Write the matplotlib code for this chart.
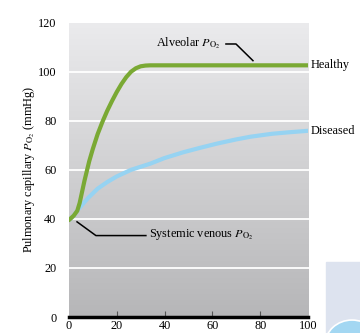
import matplotlib
matplotlib.use("Agg")
import matplotlib.pyplot as plt
import numpy as np
from matplotlib.patches import Rectangle, Circle

plt.rcParams["font.family"] = ["Liberation Serif", "DejaVu Serif"]
plt.rcParams["mathtext.fontset"] = "stix"

# transit time along the capillary (% of length) and capillary PO2 (mmHg)
healthy_x = [0, 2, 3.5, 4.5, 5.5, 6.5, 7.5, 8.5, 10, 12, 14, 16, 18, 20, 22, 24, 26,
             28, 30, 32, 34, 100]
healthy_y = [39.5, 41.3, 43.3, 46.5, 51, 55.5, 59.5, 63.5, 68.5, 74.5, 79.5, 84,
             88, 91.7, 95, 97.8, 100, 101.4, 102.2, 102.5, 102.6, 102.6]
diseased_x = [0, 2, 4, 8, 12, 16, 20, 26, 34, 40, 48, 55, 62, 70, 76, 85, 92, 100]
diseased_y = [39.5, 41.3, 44, 48.5, 52.3, 55, 57.3, 60, 62.5, 64.8, 67.2, 69,
              70.7, 72.4, 73.5, 74.7, 75.3, 75.9]
x_ticks = [0, 20, 40, 60, 80, 100]
y_ticks = [0, 20, 40, 60, 80, 100, 120]

GREEN = "#7aa934"
BLUE = "#96d3f2"
FS = 8.8

fig = plt.figure(figsize=(3.6, 3.33), dpi=100)
ax = fig.add_axes([0.1914, 0.048, 0.664, 0.884])

# grey gradient background
grad = np.linspace(0, 1, 256).reshape(-1, 1)
ax.imshow(grad, extent=[0, 100, 0, 120], aspect="auto", origin="upper",
          cmap=matplotlib.colors.LinearSegmentedColormap.from_list(
              "bg", ["#ebebed", "#b6b6b8"]), zorder=0)

for yv in y_ticks[1:-1]:
    ax.plot([0, 100.5], [yv, yv], color="white", lw=1.3, zorder=1, clip_on=False)

ax.plot(diseased_x, diseased_y, color=BLUE, lw=3, solid_capstyle="round", zorder=3)
ax.plot(healthy_x, healthy_y, color=GREEN, lw=3, solid_capstyle="round",
        solid_joinstyle="round", zorder=4)

ax.text(101.3, 102.6, "Healthy", fontsize=FS, va="center", ha="left")
ax.text(101.3, 75.9, "Diseased", fontsize=FS, va="center", ha="left")

# leader lines
ax.plot([65.7, 69.9, 77.0], [111.3, 111.3, 104.5], color="black", lw=1.1, zorder=5)
ax.text(63.6, 111.6, r"Alveolar $P_{\mathrm{O_2}}$", fontsize=FS, ha="right", va="center")
ax.plot([3.4, 11.3, 32.2], [38.8, 33.2, 33.2], color="black", lw=1.1, zorder=5)
ax.text(33.4, 33.5, r"Systemic venous $P_{\mathrm{O_2}}$", fontsize=FS, ha="left", va="center")

ax.set_xlim(0, 100)
ax.set_ylim(0, 120)
for s in ["top", "right", "left"]:
    ax.spines[s].set_visible(False)
ax.spines["bottom"].set_linewidth(2.5)
ax.spines["bottom"].set_zorder(6)
ax.set_xticks(x_ticks)
ax.set_yticks(y_ticks)
ax.tick_params(axis="x", direction="in", length=4, width=0.8, color="#555555",
               labelsize=FS, pad=2)
ax.tick_params(axis="y", length=0, labelsize=FS, pad=9)
ax.xaxis.get_major_ticks()[0].tick1line.set_visible(False)
ax.xaxis.get_major_ticks()[-1].tick1line.set_visible(False)
ax.set_ylabel(r"Pulmonary capillary $P_{\mathrm{O_2}}$ (mmHg)", fontsize=FS, labelpad=1)

# corner panel at lower right
fig.patches.append(Rectangle((326 / 360, 0), 34 / 360, 71 / 333,
                             transform=fig.transFigure, color="#dde3ef", zorder=0))
fig.patches.append(Circle((352 / 360, -12 / 333), 0.075, transform=fig.transFigure,
                          facecolor="#a3d7f2", edgecolor="white", lw=1.2, zorder=1))

fig.savefig("out.png", dpi=100)
